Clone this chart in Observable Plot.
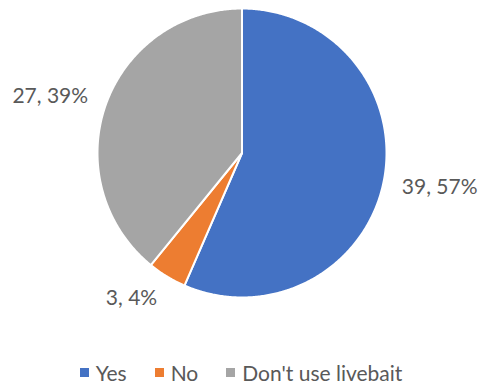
<!DOCTYPE html>
<html><head><meta charset="utf-8">
<script src="https://cdn.jsdelivr.net/npm/d3@7"></script>
<script src="https://cdn.jsdelivr.net/npm/@observablehq/plot@0.6"></script>
<style>
body{margin:0;background:#fff;font-family:Lato,"Open Sans",sans-serif;}
#legend{display:flex;justify-content:center;align-items:center;height:35px;padding-top:3px;font-size:21px;color:#595959;padding-left:0px}
#legend .item{display:flex;align-items:center;margin:0 14px}
#legend .sw{width:9px;height:9px;margin-right:7px}
</style></head><body><div id="chart"></div><div id="legend"></div>
<script>
const categories = ["Yes", "No", "Don't use livebait"];
const values = [39, 3, 27];
const colors = ["#4472C4", "#ED7D31", "#A5A5A5"];

const total = d3.sum(values);
const slices = [];
const labelRows = [];
let acc = 0;
categories.forEach((c, i) => {
  const a0 = acc / total * 2 * Math.PI;
  acc += values[i];
  const a1 = acc / total * 2 * Math.PI;
  const n = Math.max(4, Math.ceil((a1 - a0) / (Math.PI / 360)));
  slices.push({cat: c, x: 0, y: 0});
  for (let k = 0; k <= n; k++) {
    const a = a0 + (a1 - a0) * k / n;
    slices.push({cat: c, x: Math.sin(a), y: Math.cos(a)});
  }
  const m = (a0 + a1) / 2;
  labelRows.push({
    cat: c,
    x: 1.13 * Math.sin(m),
    y: 1.18 * Math.cos(m),
    anchor: Math.sin(m) >= 0 ? "start" : "end",
    text: `${values[i]}, ${Math.round(values[i] / total * 100)}%`
  });
});

const W = 482, H = 352;
const plot = Plot.plot({
  width: W, height: H,
  margin: 0,
  x: {domain: [-1, 1], range: [97, 386], axis: null},
  y: {domain: [-1, 1], range: [297, 8], axis: null},
  color: {domain: categories, range: colors},
  style: {fontFamily: "Lato, 'Open Sans', sans-serif"},
  marks: [
    Plot.line(slices, {x: "x", y: "y", z: "cat", fill: "cat", stroke: "white", strokeWidth: 2, curve: "linear-closed"}),
    Plot.text(labelRows.filter(d => d.anchor === "start"), {x: "x", y: "y", text: "text", textAnchor: "start", lineAnchor: "middle", fontSize: 21, fill: "#595959"}),
    Plot.text(labelRows.filter(d => d.anchor === "end"), {x: "x", y: "y", text: "text", textAnchor: "end", lineAnchor: "middle", fontSize: 21, fill: "#595959"})
  ]
});
document.getElementById("chart").appendChild(plot);

const legend = document.getElementById("legend");
categories.forEach((c, i) => {
  const item = document.createElement("div");
  item.className = "item";
  const sw = document.createElement("div");
  sw.className = "sw";
  sw.style.background = colors[i];
  const t = document.createElement("span");
  t.textContent = c;
  item.appendChild(sw); item.appendChild(t);
  legend.appendChild(item);
});
</script></body></html>
